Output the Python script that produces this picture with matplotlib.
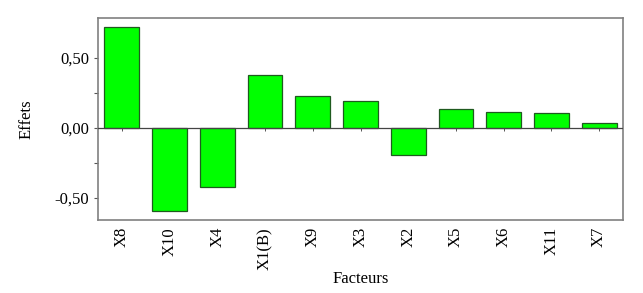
#!/usr/bin/env python3
import matplotlib

matplotlib.use("Agg")
import matplotlib.pyplot as plt

factors = ["X8", "X10", "X4", "X1(B)", "X9", "X3", "X2", "X5", "X6", "X11", "X7"]
effects = [0.72, -0.593, -0.42, 0.38, 0.23, 0.195, -0.195, 0.136, 0.117, 0.107, 0.036]
ytick_values = [-0.5, 0.0, 0.5]
ytick_labels = ["-0,50", "0,00", "0,50"]
yminor_values = [-0.25, 0.25]

plt.rcParams.update(
    {
        "font.family": "Liberation Serif",
        "font.size": 12,
    }
)

W, H = 643, 293
fig = plt.figure(figsize=(W / 100, H / 100), dpi=100)
ax = fig.add_axes([98 / W, (H - 220) / H, 525 / W, 202 / H])

x = list(range(len(factors)))
ax.bar(x, effects, width=0.73, color="#00FF00", edgecolor="#1f5a1f", linewidth=0.9, zorder=2)
ax.axhline(0, color="#444444", lw=0.9, zorder=3)

ymin, ymax = -0.657, 0.786
ax.set_xlim(-0.5, len(factors) - 0.5)
ax.set_ylim(ymin, ymax)

ax.set_yticks(ytick_values)
ax.set_yticklabels(ytick_labels)
ax.set_yticks(yminor_values, minor=True)
ax.tick_params(axis="y", which="both", direction="out", length=3, width=0.8, color="#555555")

ax.set_xticks(x)
ax.set_xticklabels(factors, rotation=90)
ax.tick_params(axis="x", which="both", length=0, pad=5)

# small tick marks where the bars meet the zero line
zero_axis = ax.secondary_xaxis((0 - ymin) / (ymax - ymin))
zero_axis.set_xticks(x)
zero_axis.set_xticklabels([])
zero_axis.tick_params(direction="out", length=2.5, width=0.7, color="#555555")
zero_axis.spines["bottom"].set_visible(False)

for spine in ax.spines.values():
    spine.set_color("#808080")
    spine.set_linewidth(1.2)

ax.set_xlabel("Facteurs", labelpad=1)
ax.set_ylabel("Effets", labelpad=14)

fig.savefig("out.png", dpi=100)
